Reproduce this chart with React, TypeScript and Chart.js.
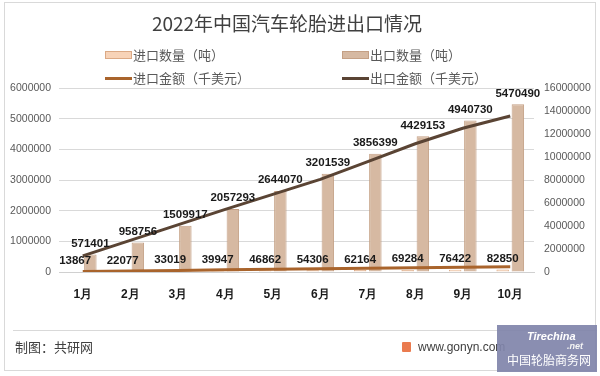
import React, { useEffect, useRef } from "react";
import { Chart, registerables } from "chart.js";

Chart.register(...registerables);

const months = ["1月", "2月", "3月", "4月", "5月", "6月", "7月", "8月", "9月", "10月"];
const importQty = [13867, 22077, 33019, 39947, 46862, 54306, 62164, 69284, 76422, 82850];
const exportQty = [571401, 958756, 1509917, 2057293, 2644070, 3201539, 3856399, 4429153, 4940730, 5470490];
const importAmt = [48000, 92000, 140000, 186000, 232000, 281000, 330000, 378000, 420000, 462000];
const exportAmt = [1400000, 2750000, 4100000, 5450000, 6750000, 8050000, 9600000, 11150000, 12500000, 13570000];

const leftTicks = [0, 1000000, 2000000, 3000000, 4000000, 5000000, 6000000];
const rightTicks = [0, 2000000, 4000000, 6000000, 8000000, 10000000, 12000000, 14000000, 16000000];

const title = "2022年中国汽车轮胎进出口情况";
const seriesNames = ["进口数量（吨）", "出口数量（吨）", "进口金额（千美元）", "出口金额（千美元）"];

const C_IMP_BAR = "#f7d3b8";
const C_IMP_BAR_B = "#dba985";
const C_EXP_BAR = "#d6b9a2";
const C_EXP_BAR_B = "#c4a085";
const C_IMP_LINE = "#a9642c";
const C_EXP_LINE = "#5a4434";

const CJK = '"Noto Sans CJK SC", "Noto Sans", sans-serif';
const NUM = '"Liberation Sans", Arial, sans-serif';

const labelPlugin = {
  id: "barLabels",
  afterDatasetsDraw(chart: any) {
    const ctx = chart.ctx;
    ctx.save();
    ctx.font = `bold 11.5px ${NUM}`;
    ctx.fillStyle = "#1a1a1a";
    ctx.textAlign = "center";
    ctx.textBaseline = "bottom";
    [0, 1].forEach((di) => {
      const meta = chart.getDatasetMeta(di);
      const data = chart.data.datasets[di].data;
      meta.data.forEach((el: any, i: number) => {
        ctx.fillText(String(data[i]), el.x, el.y - 5);
      });
    });
    ctx.restore();
  },
};

export default function App() {
  const ref = useRef<HTMLCanvasElement>(null);
  useEffect(() => {
    if (!ref.current) return;
    const chart = new Chart(ref.current, {
      type: "bar",
      data: {
        labels: months,
        datasets: [
          {
            type: "bar",
            label: seriesNames[0],
            data: importQty,
            backgroundColor: C_IMP_BAR,
            borderColor: C_IMP_BAR_B,
            borderWidth: 1,
            yAxisID: "y",
            order: 1,
            categoryPercentage: 0.64,
            barPercentage: 0.82,
          },
          {
            type: "bar",
            label: seriesNames[1],
            data: exportQty,
            backgroundColor: C_EXP_BAR,
            borderColor: C_EXP_BAR_B,
            borderWidth: 1,
            yAxisID: "y",
            order: 1,
            categoryPercentage: 0.64,
            barPercentage: 0.82,
          },
          {
            type: "line",
            label: seriesNames[2],
            data: importAmt,
            borderColor: C_IMP_LINE,
            backgroundColor: C_IMP_LINE,
            borderWidth: 3,
            pointRadius: 0,
            tension: 0,
            yAxisID: "y1",
            order: 0,
          },
          {
            type: "line",
            label: seriesNames[3],
            data: exportAmt,
            borderColor: C_EXP_LINE,
            backgroundColor: C_EXP_LINE,
            borderWidth: 3,
            pointRadius: 0,
            tension: 0,
            yAxisID: "y1",
            order: 0,
          },
        ] as any,
      },
      options: {
        responsive: false,
        animation: false,
        layout: { padding: { top: 88, bottom: 74, left: 0, right: 0 } },
        plugins: {
          legend: { display: false },
          title: { display: false },
          tooltip: { enabled: false },
        },
        scales: {
          x: {
            grid: { display: false, drawTicks: false },
            border: { color: "#d0d0d0" },
            ticks: {
              font: { family: NUM, size: 12, weight: "bold" },
              color: "#1a1a1a",
              padding: 15,
            },
            afterFit(s: any) {
              s.height = 30;
            },
          },
          y: {
            position: "left",
            min: 0,
            max: 6000000,
            afterBuildTicks(s: any) {
              s.ticks = leftTicks.map((v) => ({ value: v }));
            },
            grid: { color: "#d9d9d9", drawTicks: false },
            border: { display: false },
            ticks: {
              font: { family: NUM, size: 10.5 },
              color: "#595959",
              padding: 8,
              callback: (v: any) => String(v),
            },
            afterFit(s: any) {
              s.width = 59;
            },
          },
          y1: {
            position: "right",
            min: 0,
            max: 16000000,
            afterBuildTicks(s: any) {
              s.ticks = rightTicks.map((v) => ({ value: v }));
            },
            grid: { display: false, drawTicks: false },
            border: { display: false },
            ticks: {
              font: { family: NUM, size: 10.5 },
              color: "#595959",
              padding: 10,
              callback: (v: any) => String(v),
            },
            afterFit(s: any) {
              s.width = 66;
            },
          },
        },
      } as any,
      plugins: [labelPlugin],
    });
    return () => chart.destroy();
  }, []);

  const legendText: React.CSSProperties = {
    position: "absolute",
    fontFamily: CJK,
    fontSize: 13,
    color: "#595959",
    lineHeight: "16px",
    whiteSpace: "nowrap",
  };

  const legendItems = [
    { x: 105, y: 55, name: seriesNames[0], kind: "bar", fill: C_IMP_BAR, border: C_IMP_BAR_B },
    { x: 342, y: 55, name: seriesNames[1], kind: "bar", fill: C_EXP_BAR, border: C_EXP_BAR_B },
    { x: 105, y: 78, name: seriesNames[2], kind: "line", fill: C_IMP_LINE, border: C_IMP_LINE },
    { x: 342, y: 78, name: seriesNames[3], kind: "line", fill: C_EXP_LINE, border: C_EXP_LINE },
  ];

  return (
    <div
      style={{
        position: "fixed",
        left: 0,
        top: 0,
        width: 600,
        height: 376,
        background: "#ffffff",
        overflow: "hidden",
      }}
    >
      <div
        style={{
          position: "absolute",
          left: 4,
          top: 2,
          width: 592,
          height: 369,
          border: "1px solid #d9d9d9",
          boxSizing: "border-box",
        }}
      />
      <canvas ref={ref} width={600} height={376} style={{ position: "absolute", left: 0, top: 0 }} />
      <div
        style={{
          position: "absolute",
          left: 0,
          width: 574,
          top: 10,
          textAlign: "center",
          fontFamily: CJK,
          fontSize: 19,
          lineHeight: "26px",
          color: "#404040",
        }}
      >
        {title}
      </div>
      {legendItems.map((it, i) => (
        <React.Fragment key={i}>
          {it.kind === "bar" ? (
            <div
              style={{
                position: "absolute",
                left: it.x,
                top: it.y - 4,
                width: 27,
                height: 8,
                background: it.fill,
                border: `1px solid ${it.border}`,
                boxSizing: "border-box",
              }}
            />
          ) : (
            <div
              style={{
                position: "absolute",
                left: it.x,
                top: it.y - 1.5,
                width: 27,
                height: 3,
                background: it.fill,
              }}
            />
          )}
          <div style={{ ...legendText, left: it.x + 28, top: it.y - 8 }}>{it.name}</div>
        </React.Fragment>
      ))}
      <div
        style={{
          position: "absolute",
          left: 13,
          top: 330,
          width: 584,
          height: 1,
          background: "#d9d9d9",
        }}
      />
      <div
        style={{
          position: "absolute",
          left: 15,
          top: 339,
          fontFamily: CJK,
          fontSize: 13,
          lineHeight: "16px",
          color: "#404040",
        }}
      >
        制图：共研网
      </div>
      <div
        style={{
          position: "absolute",
          left: 402,
          top: 342,
          width: 9,
          height: 10,
          background: "#ea7b4f",
          borderRadius: 1,
        }}
      />
      <div
        style={{
          position: "absolute",
          left: 418,
          top: 340,
          fontFamily: NUM,
          fontSize: 12,
          lineHeight: "14px",
          color: "#404040",
        }}
      >
        www.gonyn.com
      </div>
      <div
        style={{
          position: "absolute",
          left: 497,
          top: 325,
          width: 100,
          height: 47,
          background: "rgba(128,132,170,0.92)",
        }}
      >
        <div
          style={{
            position: "absolute",
            left: 30,
            top: 5,
            fontFamily: NUM,
            fontSize: 11,
            fontStyle: "italic",
            fontWeight: "bold",
            color: "#ffffff",
            lineHeight: "12px",
          }}
        >
          Tirechina
        </div>
        <div
          style={{
            position: "absolute",
            left: 70,
            top: 16,
            fontFamily: NUM,
            fontSize: 9,
            fontStyle: "italic",
            fontWeight: "bold",
            color: "#f4f4f4",
            lineHeight: "10px",
          }}
        >
          .net
        </div>
        <div
          style={{
            position: "absolute",
            left: 10,
            top: 28,
            fontFamily: CJK,
            fontSize: 12,
            color: "#ffffff",
            lineHeight: "14px",
            whiteSpace: "nowrap",
          }}
        >
          中国轮胎商务网
        </div>
      </div>
    </div>
  );
}
